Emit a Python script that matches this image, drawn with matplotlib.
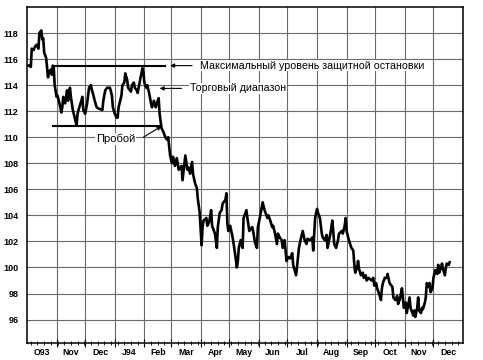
import numpy as np
import matplotlib
matplotlib.use("Agg")
import matplotlib.pyplot as plt
import matplotlib.transforms as mtransforms

# days since 1 Oct 1993 and price
days = [0, 2, 4, 5, 7, 8, 10, 12, 13, 15,
        16, 17, 18, 20, 21, 22, 23, 25, 26, 27,
        28, 29, 31, 32, 34, 36, 37, 38, 40, 42,
        43, 44, 45, 46, 48, 49, 51, 52, 53, 54,
        57, 58, 59, 61, 63, 65, 67, 68, 69, 71,
        73, 75, 79, 80, 82, 84, 87, 89, 90, 92,
        94, 95, 96, 99, 100, 102, 103, 105, 106, 109,
        110, 112, 113, 115, 116, 118, 121, 122, 123, 125,
        126, 128, 130, 131, 133, 135, 136, 138, 139, 141,
        143, 145, 147, 148, 150, 152, 153, 155, 157, 159,
        162, 163, 166, 168, 169, 171, 173, 174, 176, 178,
        179, 181, 183, 184, 185, 188, 189, 191, 193, 194,
        195, 197, 199, 200, 202, 204, 205, 208, 209, 210,
        211, 213, 215, 216, 218, 220, 221, 222, 224, 226,
        227, 230, 231, 233, 236, 237, 239, 241, 242, 244,
        246, 247, 249, 252, 253, 255, 257, 258, 260, 262,
        263, 265, 267, 268, 270, 272, 274, 276, 278, 279,
        282, 283, 285, 287, 289, 291, 293, 294, 297, 299,
        300, 302, 304, 305, 307, 309, 310, 312, 314, 315,
        318, 320, 321, 322, 324, 326, 327, 330, 331, 333,
        334, 335, 337, 340, 342, 343, 344, 346, 347, 348,
        350, 352, 353, 355, 356, 358, 361, 363, 364, 366,
        367, 369, 371, 372, 373, 375, 377, 378, 380, 383,
        384, 386, 388, 389, 391, 393, 394, 395, 397, 398,
        399, 401, 402, 405, 406, 407, 409, 410, 411, 413,
        414, 415, 417, 418, 419, 421, 422, 423, 425, 426,
        428, 430, 431, 432, 434, 435, 436, 438, 439, 440,
        442, 443]
prices = [115.5, 115.5, 115.4, 116.8, 116.7, 116.9, 117.1, 116.8, 118.0, 118.2,
          117.5, 117.6, 116.5, 116.1, 115.4, 114.6, 115.0, 115.2, 114.8, 115.5,
          115.4, 114.0, 113.1, 113.2, 112.6, 111.9, 112.3, 113.1, 112.6, 113.6,
          112.8, 113.2, 113.8, 113.1, 112.1, 111.8, 111.2, 110.9, 111.8, 112.1,
          112.8, 113.1, 112.1, 111.8, 112.6, 113.8, 114.0, 113.6, 113.4, 112.8,
          112.3, 112.2, 112.1, 112.8, 113.6, 113.8, 113.8, 113.2, 112.3, 111.8,
          111.5, 111.5, 112.3, 113.2, 114.0, 114.2, 114.9, 114.4, 113.8, 113.5,
          114.0, 114.2, 113.8, 113.6, 113.4, 114.2, 115.3, 115.0, 114.2, 113.8,
          114.0, 113.4, 112.6, 112.3, 112.8, 112.3, 112.6, 113.0, 111.8, 110.7,
          110.4, 110.0, 109.8, 110.0, 108.6, 108.0, 108.5, 107.8, 108.4, 107.5,
          107.8, 106.7, 108.6, 107.5, 107.7, 107.2, 108.1, 107.2, 106.5, 106.1,
          105.3, 104.2, 101.7, 103.1, 103.6, 103.8, 103.2, 103.5, 104.4, 103.2,
          103.0, 102.6, 101.5, 103.1, 104.2, 104.4, 104.9, 105.2, 105.7, 103.4,
          102.8, 103.2, 102.5, 102.1, 101.1, 100.0, 100.5, 101.5, 102.1, 101.5,
          103.8, 104.4, 103.8, 102.8, 103.1, 102.8, 101.9, 101.5, 103.1, 103.8,
          104.6, 105.0, 104.4, 103.8, 104.0, 103.6, 103.1, 103.2, 102.6, 101.8,
          102.6, 102.3, 102.1, 101.5, 102.1, 100.5, 100.8, 100.7, 101.1, 100.2,
          99.4, 100.0, 101.5, 102.2, 102.8, 102.1, 101.8, 102.2, 102.1, 102.3,
          101.3, 103.8, 104.5, 104.2, 103.8, 102.6, 102.3, 102.1, 102.5, 101.5,
          102.6, 103.6, 102.8, 101.8, 101.5, 102.1, 102.6, 102.8, 102.6, 103.2,
          103.8, 102.8, 102.2, 101.5, 101.3, 100.3, 99.6, 100.0, 100.5, 99.9,
          99.4, 99.6, 99.2, 99.4, 99.0, 99.2, 99.0, 99.2, 98.6, 98.8,
          98.4, 98.0, 97.5, 98.4, 98.8, 99.2, 99.2, 99.5, 98.8, 98.5,
          97.7, 97.5, 97.8, 97.2, 97.6, 98.4, 97.7, 96.9, 97.3, 96.5,
          96.9, 97.7, 96.9, 96.3, 96.7, 96.2, 96.9, 97.7, 96.7, 96.5,
          96.9, 96.8, 97.3, 97.7, 98.8, 98.5, 98.8, 98.1, 98.4, 99.2,
          99.8, 99.5, 100.2, 99.6, 100.0, 100.3, 99.9, 99.4, 100.0, 100.3,
          100.2, 100.4]

month_labels = ['O93', 'Nov', 'Dec', 'J94', 'Feb', 'Mar', 'Apr', 'May',
                'Jun', 'Jul', 'Aug', 'Sep', 'Oct', 'Nov', 'Dec']
month_len = [31, 30, 31, 31, 28, 31, 30, 31, 30, 31, 31, 30, 31, 30, 31]
y_ticks = [96, 98, 100, 102, 104, 106, 108, 110, 112, 114, 116, 118]

stop_level = 115.5      # верх диапазона / защитная остановка
range_low = 110.9       # низ диапазона

month_start = np.concatenate([[0], np.cumsum(month_len)])
month_mid = (month_start[:-1] + month_start[1:]) / 2

fig = plt.figure(figsize=(4.83, 3.6), dpi=100)
ax = fig.add_axes([0.0559, 0.0472, 0.9027, 0.9334])

# сетка
for m in month_start[1:-1]:
    ax.axvline(m, color='#6a6a6a', lw=0.8, zorder=1)
for t in y_ticks:
    ax.axhline(t, color='#6a6a6a', lw=0.8, zorder=1)

ax.plot(days, prices, color='black', lw=1.9, zorder=3)

# линии диапазона
ax.plot([27, 145], [stop_level, stop_level], color='black', lw=1.5, zorder=4)
ax.plot([27, 139], [range_low, range_low], color='black', lw=1.5, zorder=4)

arr = dict(arrowstyle='-|>', color='black', lw=0.8, mutation_scale=6,
           shrinkA=0, shrinkB=0)
box = dict(facecolor='white', edgecolor='none', pad=0.6)
fs = 7.7
ax.annotate('', xy=(150, stop_level), xytext=(173, stop_level), arrowprops=arr)
ax.text(181, stop_level, 'Максимальный уровень защитной остановки',
        family='Liberation Sans', fontsize=fs, va='center', ha='left',
        bbox=box, zorder=5)
ax.annotate('', xy=(139, 113.75), xytext=(162, 113.75), arrowprops=arr)
ax.text(171, 113.75, 'Торговый диапазон',
        family='Liberation Sans', fontsize=fs, va='center', ha='left',
        bbox=box, zorder=5)
ax.annotate('', xy=(141, 110.85), xytext=(122, 110.0), arrowprops=arr)
ax.text(93, 109.9, 'Пробой', family='Liberation Sans', fontsize=fs + 0.3,
        va='center', ha='center', bbox=box, zorder=5)

ax.set_xlim(0, month_start[-1])
ax.set_ylim(94.2, 120)

ax.set_yticks(y_ticks)
ax.set_yticklabels([str(t) for t in y_ticks], fontweight='bold',
                   family='Liberation Sans', fontsize=6.5)
ax.tick_params(axis='y', length=0, pad=6)

ax.set_xticks(month_start[1:-1])
ax.set_xticklabels([])
ax.set_xticks(np.arange(4, month_start[-1], 7), minor=True)
ax.tick_params(axis='x', which='major', direction='inout', length=6, width=0.8)
ax.tick_params(axis='x', which='minor', direction='inout', length=3, width=0.6)

trans = mtransforms.blended_transform_factory(ax.transData, ax.transAxes)
for x, lab in zip(month_mid, month_labels):
    ax.text(x, -0.027, lab, transform=trans, ha='center', va='center',
            fontweight='bold', family='Liberation Sans', fontsize=6.3)

for s in ax.spines.values():
    s.set_linewidth(1.1)

fig.savefig('out.png', dpi=100)
